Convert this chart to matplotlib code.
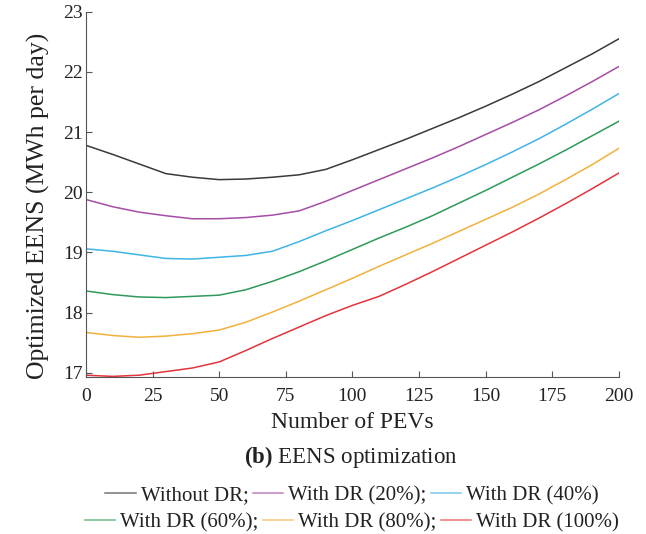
import matplotlib
matplotlib.use('Agg')
import matplotlib.pyplot as plt
from matplotlib.lines import Line2D

plt.rcParams['font.family'] = ['Liberation Serif', 'DejaVu Serif']
plt.rcParams['mathtext.fontset'] = 'custom'
plt.rcParams['mathtext.rm'] = 'Liberation Serif'
plt.rcParams['mathtext.bf'] = 'Liberation Serif:bold'

# number of PEVs
pevs = [0, 10, 20, 30, 40, 50, 60, 70, 80, 90, 100,
        110, 120, 130, 140, 150, 160, 170, 180, 190, 200]

# optimized EENS (MWh per day)
eens_no_dr = [20.78, 20.63, 20.47, 20.31, 20.25, 20.21, 20.22, 20.25, 20.29, 20.38, 20.54,
              20.71, 20.88, 21.06, 21.24, 21.43, 21.63, 21.84, 22.07, 22.30, 22.55]
eens_dr20 = [19.88, 19.76, 19.67, 19.61, 19.56, 19.56, 19.58, 19.62, 19.69, 19.85, 20.03,
             20.21, 20.39, 20.57, 20.76, 20.96, 21.16, 21.37, 21.60, 21.84, 22.09]
eens_dr40 = [19.06, 19.02, 18.96, 18.90, 18.89, 18.92, 18.95, 19.02, 19.18, 19.36, 19.53,
             19.71, 19.89, 20.07, 20.26, 20.46, 20.67, 20.89, 21.13, 21.38, 21.64]
eens_dr60 = [18.36, 18.30, 18.26, 18.25, 18.27, 18.29, 18.38, 18.52, 18.68, 18.86, 19.05,
             19.24, 19.42, 19.61, 19.82, 20.03, 20.25, 20.47, 20.70, 20.94, 21.18]
eens_dr80 = [17.67, 17.62, 17.59, 17.61, 17.65, 17.71, 17.84, 18.01, 18.19, 18.38, 18.57,
             18.77, 18.96, 19.15, 19.35, 19.55, 19.75, 19.97, 20.21, 20.46, 20.73]
eens_dr100 = [16.96, 16.94, 16.96, 17.02, 17.08, 17.18, 17.37, 17.57, 17.76, 17.95, 18.12,
              18.27, 18.47, 18.68, 18.90, 19.12, 19.34, 19.57, 19.81, 20.06, 20.32]

labels = ['Without DR;', 'With DR (20%);', 'With DR (40%)',
          'With DR (60%);', 'With DR (80%);', 'With DR (100%)']
colors = ['#3a3a3a', '#a64ca6', '#3fb4e6', '#2e9a58', '#f2b13c', '#e3343c']
series = [eens_no_dr, eens_dr20, eens_dr40, eens_dr60, eens_dr80, eens_dr100]

fig = plt.figure(figsize=(6.46, 5.34), dpi=100)
ax = fig.add_axes([0.133, 0.294, 0.825, 0.684])

for ys, c in zip(series, colors):
    ax.plot(pevs, ys, color=c, lw=1.1)

ax.set_xlim(0, 200)
ax.set_ylim(16.93, 23)
ax.set_xticks([0, 25, 50, 75, 100, 125, 150, 175, 200])
ax.set_yticks([17, 18, 19, 20, 21, 22, 23])
ax.spines['top'].set_visible(False)
ax.spines['right'].set_visible(False)
for s in ('left', 'bottom'):
    ax.spines[s].set_color('#555555')
ax.tick_params(direction='in', length=4, colors='#555555', labelcolor='#222222',
               labelsize=14)
ax.tick_params(axis='x', pad=8)
ax.tick_params(axis='y', pad=2.5)
ax.set_xlabel('Number of PEVs', fontsize=17, color='#222222', labelpad=5)
ax.set_ylabel('Optimized EENS (MWh per day)', fontsize=18.5, color='#222222', labelpad=9)
ax.yaxis.label.set_y(0.468)

fig.text(0.543, 0.145, r'$\mathbf{(b)}$ EENS optimization', ha='center', va='center',
         fontsize=16.5, color='#222222')

handles = [Line2D([], [], color=c, lw=1.1, alpha=0.7) for c in colors]
kw = dict(frameon=False, ncol=3, fontsize=15, handlelength=1.45, handletextpad=0.25,
          columnspacing=0.2, borderpad=0, labelcolor='#222222')
fig.legend(handles[:3], labels[:3], loc='center', bbox_to_anchor=(0.545, 0.072), **kw)
fig.legend(handles[3:], labels[3:], loc='center', bbox_to_anchor=(0.545, 0.022), **kw)

fig.savefig('out.png', dpi=100)
